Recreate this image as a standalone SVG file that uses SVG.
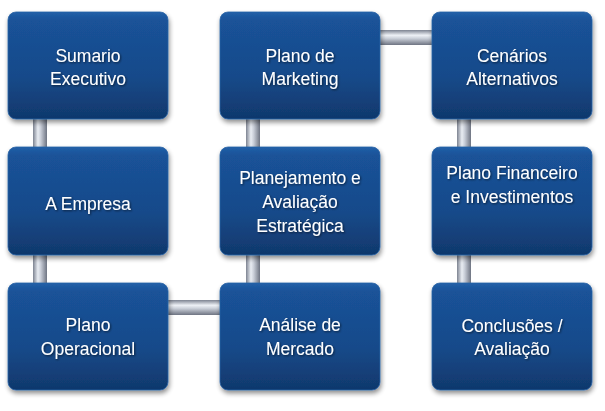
<svg xmlns="http://www.w3.org/2000/svg" width="605" height="411" viewBox="0 0 605 411">
<defs>
<linearGradient id="boxg" x1="0" y1="0" x2="0" y2="1">
<stop offset="0" stop-color="#2260a8"/>
<stop offset="0.08" stop-color="#1a5298"/>
<stop offset="0.6" stop-color="#174a8a"/>
<stop offset="1" stop-color="#10386c"/>
</linearGradient>
<linearGradient id="vpipe" x1="0" y1="0" x2="1" y2="0">
<stop offset="0" stop-color="#7d8391"/>
<stop offset="0.35" stop-color="#e9edf3"/>
<stop offset="0.55" stop-color="#c9ced8"/>
<stop offset="1" stop-color="#6e7482"/>
</linearGradient>
<linearGradient id="hpipe" x1="0" y1="0" x2="0" y2="1">
<stop offset="0" stop-color="#7d8391"/>
<stop offset="0.35" stop-color="#eef1f6"/>
<stop offset="0.55" stop-color="#cdd2db"/>
<stop offset="1" stop-color="#6e7482"/>
</linearGradient>
<filter id="sh" x="-10%" y="-10%" width="125%" height="130%">
<feGaussianBlur in="SourceAlpha" stdDeviation="2.5"/>
<feOffset dx="1" dy="3" result="b"/>
<feComponentTransfer><feFuncA type="linear" slope="0.45"/></feComponentTransfer>
<feMerge><feMergeNode/><feMergeNode in="SourceGraphic"/></feMerge>
</filter>
<filter id="tsh" x="-5%" y="-20%" width="110%" height="140%">
<feGaussianBlur in="SourceAlpha" stdDeviation="0.8"/>
<feOffset dx="1" dy="1.2"/>
<feComponentTransfer><feFuncA type="linear" slope="0.6"/></feComponentTransfer>
<feMerge><feMergeNode/><feMergeNode in="SourceGraphic"/></feMerge>
</filter>
</defs>
<style>
.box{fill:url(#boxg);stroke:#2a64a6;stroke-width:0.8;filter:url(#sh)}
.t{font-family:"Liberation Sans",Arial,sans-serif;font-size:17.5px;fill:#ffffff;text-anchor:middle;filter:url(#tsh)}
.vp{fill:url(#vpipe)}
.hp{fill:url(#hpipe)}
</style>
<g id="connectors">
<rect class="vp" x="33" y="112" width="14" height="42"/>
<rect class="vp" x="33" y="248" width="14" height="42"/>
<rect class="hp" x="160" y="300" width="67" height="15"/>
<rect class="vp" x="246" y="248" width="14" height="42"/>
<rect class="vp" x="246" y="112" width="14" height="42"/>
<rect class="hp" x="372" y="30" width="67" height="15"/>
<rect class="vp" x="457" y="112" width="14" height="42"/>
<rect class="vp" x="457" y="248" width="14" height="42"/>
</g>
<g id="n1"><rect class="box" x="8" y="12" width="160" height="107" rx="8"/>
<text class="t" x="88" y="62">Sumario</text><text class="t" x="88" y="85">Executivo</text></g>
<g id="n2"><rect class="box" x="8" y="147" width="160" height="108" rx="8"/>
<text class="t" x="88" y="210">A Empresa</text></g>
<g id="n3"><rect class="box" x="8" y="283" width="160" height="107" rx="8"/>
<text class="t" x="88" y="331">Plano</text><text class="t" x="88" y="355">Operacional</text></g>
<g id="n4"><rect class="box" x="220" y="283" width="160" height="107" rx="8"/>
<text class="t" x="300" y="331">Análise de</text><text class="t" x="300" y="355">Mercado</text></g>
<g id="n5"><rect class="box" x="220" y="147" width="160" height="108" rx="8"/>
<text class="t" x="300" y="184">Planejamento e</text><text class="t" x="300" y="208">Avaliação</text><text class="t" x="300" y="232">Estratégica</text></g>
<g id="n6"><rect class="box" x="220" y="12" width="160" height="107" rx="8"/>
<text class="t" x="300" y="62">Plano de</text><text class="t" x="300" y="85">Marketing</text></g>
<g id="n7"><rect class="box" x="432" y="12" width="160" height="107" rx="8"/>
<text class="t" x="512" y="62">Cenários</text><text class="t" x="512" y="85">Alternativos</text></g>
<g id="n8"><rect class="box" x="432" y="147" width="160" height="108" rx="8"/>
<text class="t" x="512" y="179">Plano Financeiro</text><text class="t" x="512" y="203">e Investimentos</text></g>
<g id="n9"><rect class="box" x="432" y="283" width="160" height="107" rx="8"/>
<text class="t" x="512" y="332">Conclusões /</text><text class="t" x="512" y="355">Avaliação</text></g>
</svg>
